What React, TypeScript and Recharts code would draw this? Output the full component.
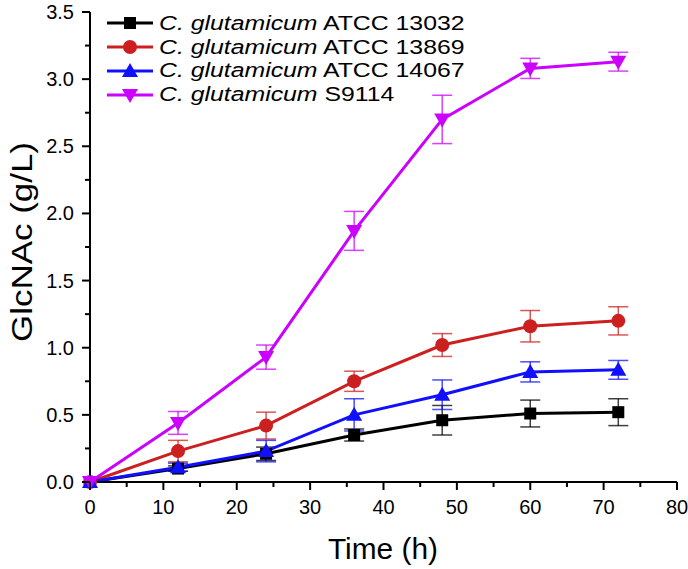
import React from 'react';
import { LineChart, Line, XAxis, YAxis, ErrorBar, Label } from 'recharts';

const TIME = [0, 12, 24, 36, 48, 60, 72];

const ATCC13032 = [0, 0.1, 0.21, 0.35, 0.46, 0.51, 0.52];
const ATCC13032_ERR = [0, 0.02, 0.05, 0.045, 0.11, 0.1, 0.1];
const ATCC13869 = [0, 0.23, 0.42, 0.75, 1.02, 1.16, 1.2];
const ATCC13869_ERR = [0, 0.08, 0.1, 0.075, 0.085, 0.117, 0.105];
const ATCC14067 = [0, 0.11, 0.23, 0.5, 0.65, 0.82, 0.835];
const ATCC14067_ERR = [0, 0.03, 0.08, 0.12, 0.11, 0.075, 0.07];
const S9114 = [0, 0.44, 0.93, 1.87, 2.7, 3.08, 3.13];
const S9114_ERR = [0, 0.085, 0.09, 0.145, 0.18, 0.075, 0.07];

const X_TICKS = [0, 5, 10, 15, 20, 25, 30, 35, 40, 45, 50, 55, 60, 65, 70, 75, 80];
const Y_TICKS = [0, 0.25, 0.5, 0.75, 1, 1.25, 1.5, 1.75, 2, 2.25, 2.5, 2.75, 3, 3.25, 3.5];

const FONT = '"Liberation Sans", Arial, sans-serif';

type Shape = 'square' | 'circle' | 'up' | 'down';

const series: { key: string; strain: string; color: string; shape: Shape; values: number[]; errors: number[] }[] = [
  { key: 'a13032', strain: 'ATCC 13032', color: '#000000', shape: 'square', values: ATCC13032, errors: ATCC13032_ERR },
  { key: 'a13869', strain: 'ATCC 13869', color: '#CC1F1F', shape: 'circle', values: ATCC13869, errors: ATCC13869_ERR },
  { key: 'a14067', strain: 'ATCC 14067', color: '#1010FF', shape: 'up', values: ATCC14067, errors: ATCC14067_ERR },
  { key: 's9114', strain: 'S9114', color: '#CC00FF', shape: 'down', values: S9114, errors: S9114_ERR },
];

const data = TIME.map((t, i) => {
  const row: Record<string, number> = { t };
  series.forEach((s) => {
    row[s.key] = s.values[i];
    row[s.key + '_err'] = s.errors[i];
  });
  return row;
});

const marker = (shape: Shape, cx: number, cy: number, color: string, k?: string) => {
  if (shape === 'square') {
    return <rect key={k} x={cx - 6} y={cy - 6} width={12} height={12} fill={color} />;
  }
  if (shape === 'circle') {
    return <circle key={k} cx={cx} cy={cy} r={7} fill={color} />;
  }
  if (shape === 'up') {
    return <polygon key={k} points={`${cx - 8},${cy + 6} ${cx + 8},${cy + 6} ${cx},${cy - 8}`} fill={color} />;
  }
  return <polygon key={k} points={`${cx - 8},${cy - 6} ${cx + 8},${cy - 6} ${cx},${cy + 8}`} fill={color} />;
};

const XTick = (props: any) => {
  const { x, y, payload } = props;
  const major = payload.value % 10 === 0;
  return (
    <g>
      <line x1={x} y1={y} x2={x} y2={y + (major ? 8 : 5)} stroke="#000" strokeWidth={2} />
      {major && (
        <text x={x} y={y + 32} textAnchor="middle" fontSize={20} fontFamily={FONT} fill="#000">
          {payload.value}
        </text>
      )}
    </g>
  );
};

const YTick = (props: any) => {
  const { x, y, payload } = props;
  const major = Math.abs((payload.value * 2) % 1) < 1e-6;
  return (
    <g>
      <line x1={x} y1={y} x2={x - (major ? 8 : 5)} y2={y} stroke="#000" strokeWidth={2} />
      {major && (
        <text x={x - 16} y={y + 7} textAnchor="end" fontSize={20} fontFamily={FONT} fill="#000">
          {payload.value.toFixed(1)}
        </text>
      )}
    </g>
  );
};

const LegendBox = () => (
  <div style={{ position: 'absolute', left: 105, top: 11.5, fontFamily: FONT, fontSize: 20, color: '#000', whiteSpace: 'nowrap' }}>
    {series.map((s) => (
      <div key={s.key} style={{ display: 'flex', alignItems: 'center', height: 23.8 }}>
        <svg width={50} height={20} style={{ marginRight: 4 }}>
          <line x1={2} y1={10} x2={48} y2={10} stroke={s.color} strokeWidth={3} />
          {marker(s.shape, 25, 10, s.color)}
        </svg>
        <span style={{ display: 'inline-block', transform: 'scaleX(1.24)', transformOrigin: 'left center' }}>
          <i>C. glutamicum</i> {s.strain}
        </span>
      </div>
    ))}
  </div>
);

export default function App() {
  return (
    <div style={{ position: 'absolute', left: 0, top: 0, width: 688, height: 569, background: '#fff' }}>
      <LineChart width={688} height={569} data={data} margin={{ top: 12, right: 11, left: 0, bottom: 0 }}>
        <XAxis
          dataKey="t"
          type="number"
          domain={[0, 80]}
          ticks={X_TICKS}
          interval={0}
          height={87}
          tickSize={0}
          tickMargin={0}
          tick={<XTick />}
          axisLine={{ stroke: '#000', strokeWidth: 2 }}
          tickLine={false}
        >
          <Label
            content={() => (
              <text x={383} y={559} textAnchor="middle" fontSize={30} fontFamily={FONT} fill="#000" textLength={110} lengthAdjust="spacingAndGlyphs">
                Time (h)
              </text>
            )}
          />
        </XAxis>
        <YAxis
          type="number"
          domain={[0, 3.5]}
          ticks={Y_TICKS}
          interval={0}
          width={90}
          tickSize={0}
          tickMargin={0}
          tick={<YTick />}
          axisLine={{ stroke: '#000', strokeWidth: 2 }}
          tickLine={false}
        >
          <Label
            content={() => (
              <text
                x={0}
                y={0}
                transform="translate(32 242) rotate(-90)"
                textAnchor="middle"
                fontSize={30}
                fontFamily={FONT}
                fill="#000"
                textLength={200}
                lengthAdjust="spacingAndGlyphs"
              >
                GlcNAc (g/L)
              </text>
            )}
          />
        </YAxis>
        {series.map((s) => (
          <Line
            key={s.key}
            dataKey={s.key}
            stroke={s.color}
            strokeWidth={3}
            isAnimationActive={false}
            dot={(p: any) => marker(s.shape, p.cx, p.cy, s.color, `${s.key}-${p.index}`)}
            activeDot={false}
          >
            <ErrorBar dataKey={s.key + '_err'} width={10} stroke={s.color} strokeWidth={1.5} strokeOpacity={0.75} direction="y" />
          </Line>
        ))}
      </LineChart>
      <LegendBox />
    </div>
  );
}
